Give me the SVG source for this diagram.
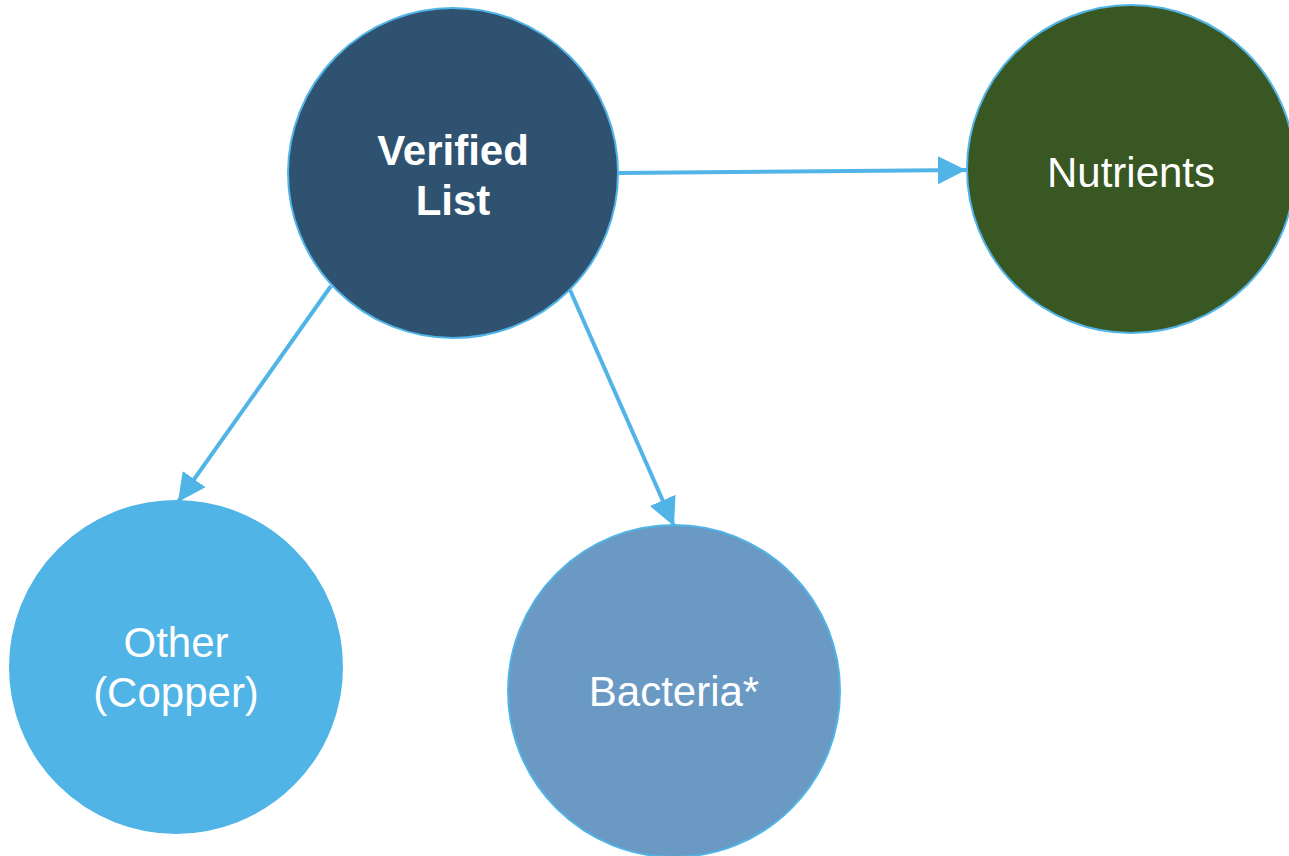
<svg xmlns="http://www.w3.org/2000/svg" width="1289" height="856" viewBox="0 0 1289 856">
<defs>
<style>
.node{stroke:#50B4E6;stroke-width:2}
.lbl{font-family:"Liberation Sans",Arial,sans-serif;font-size:42px;fill:#FFFFFF;text-anchor:middle}
.b{font-weight:bold}
.conn{stroke:#50B4E6;stroke-width:4;fill:none}
</style>
<marker id="arr" markerUnits="userSpaceOnUse" markerWidth="28" markerHeight="28" refX="26" refY="13" orient="auto" viewBox="0 0 26 26">
<path d="M0,0 L26,13 L0,26 Z" fill="#50B4E6"/>
</marker>
</defs>
<rect width="1289" height="856" fill="#FFFFFF"/>
<g id="connectors">
<line class="conn" x1="618" y1="173" x2="966" y2="170" marker-end="url(#arr)"/>
<line class="conn" x1="331" y1="286" x2="178" y2="502" marker-end="url(#arr)"/>
<line class="conn" x1="570" y1="290" x2="674" y2="526" marker-end="url(#arr)"/>
</g>
<g id="verified-list">
<circle class="node" cx="453" cy="173" r="165" fill="#2F5270"/>
<text class="lbl b" x="453" y="165">Verified</text>
<text class="lbl b" x="453" y="215">List</text>
</g>
<g id="nutrients">
<circle class="node" cx="1131" cy="169" r="164" fill="#385723"/>
<text class="lbl" x="1131" y="187">Nutrients</text>
</g>
<g id="other">
<circle class="node" cx="176" cy="667" r="166" fill="#50B4E6"/>
<text class="lbl" x="176" y="657">Other</text>
<text class="lbl" x="176" y="707">(Copper)</text>
</g>
<g id="bacteria">
<circle class="node" cx="674" cy="691" r="166" fill="#6A9AC4"/>
<text class="lbl" x="674" y="706">Bacteria*</text>
</g>
</svg>
